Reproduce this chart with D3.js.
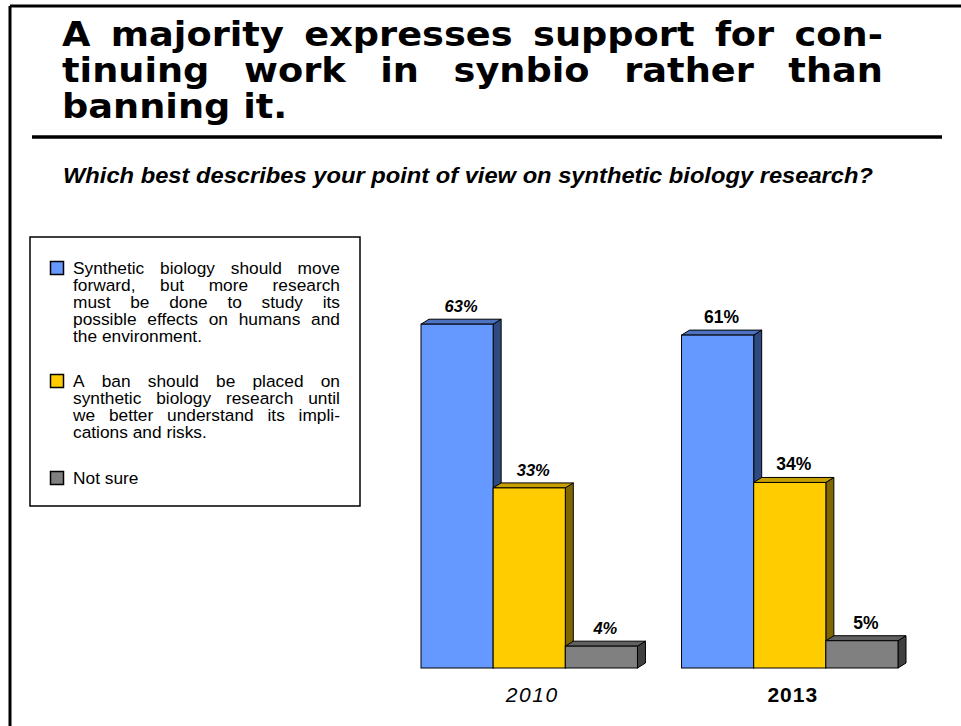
<!DOCTYPE html>
<html>
<head>
<meta charset="utf-8">
<script src="https://cdn.jsdelivr.net/npm/d3@7"></script>
<style>
  html, body { margin: 0; padding: 0; background: #fff; }
  svg { display: block; }
</style>
</head>
<body>
<svg id="chart" width="961" height="726"></svg>
<script>
// ---------------- DATA ----------------
const years = ["2010", "2013"];
const seriesKeys = ["forward", "ban", "notsure"];
const values2010 = [63, 33, 4];
const values2013 = [61, 34, 5];
const titleLines = [
  "A majority expresses support for con-",
  "tinuing work in synbio rather than",
  "banning it."
];
const subtitleText = "Which best describes your point of view on synthetic biology research?";
const legendLines = [
  ["Synthetic biology should move", "forward, but more research", "must be done to study its", "possible effects on humans and", "the environment."],
  ["A ban should be placed on", "synthetic biology research until", "we better understand its impli-", "cations and risks."],
  ["Not sure"]
];
const frontColors = ["#6699FF", "#FFCC00", "#808080"];
const sideColors = ["#2F4A80", "#806600", "#404040"];
const topColors = ["#4D73C0", "#C89F00", "#606060"];

// ---------------- SETUP ----------------
const svg = d3.select("#chart");
const dataByYear = { "2010": values2010, "2013": values2013 };

// frame (top and left)
svg.append("line").attr("x1", 10).attr("y1", 6).attr("x2", 961).attr("y2", 6)
  .attr("stroke", "#000").attr("stroke-width", 3);
svg.append("line").attr("x1", 10).attr("y1", 6).attr("x2", 10).attr("y2", 726)
  .attr("stroke", "#000").attr("stroke-width", 3);

function measure(str, font) {
  const t = svg.append("text").attr("style", font).attr("x", -1000).attr("y", -1000).text(str);
  const w = t.node().getComputedTextLength();
  t.remove();
  return w;
}
function drawJustified(g, line, x0, x1, y, font, justify) {
  const words = line.split(" ");
  const widths = words.map(w => measure(w, font));
  const total = d3.sum(widths);
  const spaceW = measure("a a", font) - measure("aa", font);
  let gap = spaceW;
  if (justify && words.length > 1) gap = Math.max(spaceW * 0.6, ((x1 - x0) - total) / (words.length - 1));
  let x = x0;
  words.forEach((w, i) => {
    g.append("text").attr("x", x).attr("y", y).attr("style", font).text(w);
    x += widths[i] + gap;
  });
}

// ---------------- TITLE ----------------
const titleFont = "font-family:'DejaVu Sans',Verdana,sans-serif;font-weight:bold;font-size:34px;fill:#000";
const titleX0 = 62, titleX1 = 883;
const sx = 1.08;
const titleG = svg.append("g").attr("transform", `translate(${titleX0},0) scale(${sx},1)`);
const titleW = (titleX1 - titleX0) / sx;
titleLines.forEach((ln, i) => {
  drawJustified(titleG, ln, 0, titleW, 46 + i * 36, titleFont, i < titleLines.length - 1);
});

// rule
svg.append("line").attr("x1", 32).attr("x2", 942).attr("y1", 137).attr("y2", 137)
  .attr("stroke", "#000").attr("stroke-width", 3.5);

// subtitle
svg.append("text").attr("x", 63).attr("y", 183)
  .attr("style", "font-family:'Liberation Sans',Arial,sans-serif;font-weight:bold;font-style:italic;font-size:22px;fill:#000")
  .attr("textLength", 810).attr("lengthAdjust", "spacingAndGlyphs")
  .text(subtitleText);

// ---------------- LEGEND ----------------
svg.append("rect").attr("x", 30).attr("y", 237).attr("width", 330).attr("height", 269)
  .attr("fill", "#fff").attr("stroke", "#000").attr("stroke-width", 1.5);
const legFont = "font-family:'Liberation Sans',Arial,sans-serif;font-size:16.5px;fill:#000";
const legSx = 1.05;
const legTops = [274, 387, 484];
const legG = svg.append("g");
const legTextG = svg.append("g").attr("transform", `translate(73,0) scale(${legSx},1)`);
legendLines.forEach((lines, k) => {
  legG.append("rect").attr("x", 50.5).attr("y", legTops[k] - 12.5).attr("width", 13).attr("height", 13)
    .attr("fill", frontColors[k]).attr("stroke", "#000").attr("stroke-width", 1.5);
  lines.forEach((ln, j) => {
    drawJustified(legTextG, ln, 0, (340 - 73) / legSx, legTops[k] + j * 17, legFont, j < lines.length - 1);
  });
});

// ---------------- BARS ----------------
const x = d3.scaleBand().domain(years).range([421, 898]).paddingInner(44 / 260);
const xs = d3.scaleBand().domain(seriesKeys).range([0, x.bandwidth()]);
const y = d3.scaleLinear().domain([0, 70]).range([668, 286]);
const dx = 8, dy = 5;

years.forEach((yr, yi) => {
  const g = svg.append("g");
  const vals = dataByYear[yr];
  seriesKeys.forEach((k, i) => {
    const v = vals[i];
    const x0 = x(yr) + xs(k), w = xs.bandwidth();
    const top = y(v), base = y(0);
    g.append("path")
      .attr("d", `M${x0 + w},${top}L${x0 + w + dx},${top - dy}L${x0 + w + dx},${base - dy}L${x0 + w},${base}Z`)
      .attr("fill", sideColors[i]).attr("stroke", "#000").attr("stroke-width", 1).attr("stroke-linejoin", "round");
    g.append("path")
      .attr("d", `M${x0},${top}L${x0 + dx},${top - dy}L${x0 + w + dx},${top - dy}L${x0 + w},${top}Z`)
      .attr("fill", topColors[i]).attr("stroke", "#000").attr("stroke-width", 1).attr("stroke-linejoin", "round");
    g.append("rect").attr("x", x0).attr("y", top).attr("width", w).attr("height", base - top)
      .attr("fill", frontColors[i]).attr("stroke", "#000").attr("stroke-width", 1);
    g.append("text")
      .attr("x", x0 + w / 2 + dx / 2).attr("y", top - 12)
      .attr("text-anchor", "middle")
      .attr("style", yi === 0
        ? "font-family:'Liberation Sans',Arial,sans-serif;font-weight:bold;font-style:italic;font-size:16.5px;fill:#000"
        : "font-family:'Liberation Sans',Arial,sans-serif;font-weight:bold;font-size:17.5px;fill:#000")
      .text(v + "%");
  });
  svg.append("text")
    .attr("x", x(yr) + x.bandwidth() / 2 + 3).attr("y", 702)
    .attr("text-anchor", "middle")
    .attr("style", yi === 0
      ? "font-family:'Liberation Sans',Arial,sans-serif;font-style:italic;font-size:21px;letter-spacing:1.5px;fill:#000"
      : "font-family:'Liberation Sans',Arial,sans-serif;font-weight:bold;font-size:21px;letter-spacing:1px;fill:#000")
    .text(yr);
});
</script>
</body>
</html>
